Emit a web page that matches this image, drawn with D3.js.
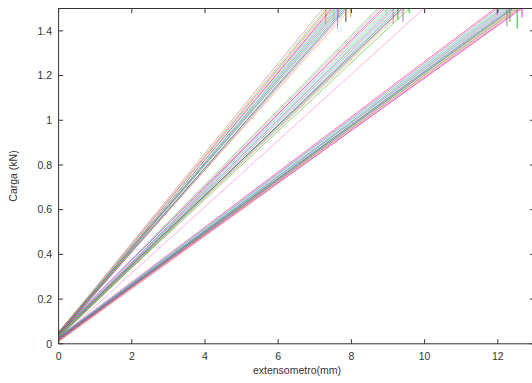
<!DOCTYPE html>
<html>
<head>
<meta charset="utf-8">
<script src="https://cdn.jsdelivr.net/npm/d3@7"></script>
<style>
  body { margin: 0; background: #fff; }
  text { font-family: "Liberation Sans", Arial, sans-serif; fill: #333; }
</style>
</head>
<body>
<script>
// x-axis ticks and y-axis ticks
const xTicks = [0, 2, 4, 6, 8, 10, 12];
const yTicks = [0, 0.2, 0.4, 0.6, 0.8, 1, 1.2, 1.4];

// load at zero extension (kN), extension where the curve leaves the top (mm), failure drop (kN, null = none)
const startA = [0.050, 0.048, 0.045, 0.052, 0.040, 0.044, 0.050, 0.035, 0.042, 0.047, 0.038, 0.050, 0.043, 0.055, 0.036, 0.046, 0.041, 0.049];
const reachA = [7.22, 7.30, 7.35, 7.40, 7.45, 7.48, 7.52, 7.55, 7.58, 7.62, 7.65, 7.68, 7.72, 7.75, 7.80, 7.85, 7.90, 7.98];
const dropA  = [null, 1.43, null, null, null, null, 1.45, null, null, 1.41, 1.46, null, null, null, null, 1.44, null, 1.46];

const startB = [0.045, 0.040, 0.030, 0.050, 0.035, 0.042, 0.028, 0.038, 0.046, 0.032, 0.040, 0.025, 0.036, 0.044, 0.030, 0.038, 0.034, 0.020];
const reachB = [8.72, 8.78, 8.84, 8.90, 8.95, 9.00, 9.05, 9.10, 9.14, 9.18, 9.22, 9.27, 9.32, 9.38, 9.41, 9.48, 9.58, 9.98];
const dropB  = [null, null, null, null, 1.47, null, null, null, 1.43, null, null, 1.45, null, null, 1.44, null, 1.48, null];

const startC = [0.030, 0.025, 0.020, 0.028, 0.015, 0.022, 0.018, 0.026, 0.012, 0.020, 0.024, 0.016, 0.028, 0.014, 0.022, 0.018, 0.010, 0.020];
const reachC = [11.92, 11.98, 12.03, 12.08, 12.12, 12.16, 12.20, 12.25, 12.28, 12.33, 12.37, 12.41, 12.45, 12.50, 12.53, 12.57, 12.62, 12.66];
const dropC  = [null, 1.47, null, null, null, null, null, 1.42, null, 1.44, null, null, null, null, 1.41, null, null, 1.46];

const colors = ['#9467bd', '#2ca02c', '#e377c2', '#17becf', '#d62728', '#ff7f0e', '#1f77b4', '#7f7f7f',
                '#bcbd22', '#ff00ff', '#00c000', '#333333', '#c0a0ff', '#00bfff', '#98df8a', '#ff66cc'];

const W = 532, H = 383;
const svg = d3.select('body').append('svg')
    .attr('width', W)
    .attr('height', H);

const x = d3.scaleLinear().domain([0, 13]).range([58.6, 534.4]);
const y = d3.scaleLinear().domain([0, 1.5]).range([343.8, 8.5]);

// build series point lists
const series = [];
[[startA, reachA, dropA], [startB, reachB, dropB], [startC, reachC, dropC]].forEach(([s, r, d]) => {
    s.forEach((v, i) => {
        const pts = [[0, v], [r[i], 1.5]];
        if (d[i] !== null) pts.push([r[i], d[i]], [r[i], 1.5]);
        series.push(pts);
    });
});

svg.append('clipPath').attr('id', 'clip')
    .append('rect')
    .attr('x', x(0)).attr('y', y(1.5))
    .attr('width', x(13) - x(0)).attr('height', y(0) - y(1.5));

const line = d3.line().x(d => x(d[0])).y(d => y(d[1]));

svg.append('g')
    .attr('clip-path', 'url(#clip)')
    .selectAll('path')
    .data(series)
    .enter().append('path')
    .attr('d', line)
    .attr('fill', 'none')
    .attr('stroke', (d, i) => colors[(i * 5) % colors.length])
    .attr('stroke-opacity', 0.5)
    .attr('stroke-width', 1);

// border
svg.append('rect')
    .attr('x', x(0)).attr('y', y(1.5))
    .attr('width', x(13) - x(0)).attr('height', y(0) - y(1.5))
    .attr('fill', 'none')
    .attr('stroke', '#333')
    .attr('stroke-width', 1);

// ticks, inward on all four sides
const tl = 4.5;
const axisG = svg.append('g').attr('stroke', '#333').attr('stroke-width', 1);
xTicks.forEach(t => {
    axisG.append('line').attr('x1', x(t)).attr('x2', x(t)).attr('y1', y(0)).attr('y2', y(0) - tl);
    axisG.append('line').attr('x1', x(t)).attr('x2', x(t)).attr('y1', y(1.5)).attr('y2', y(1.5) + tl);
});
yTicks.forEach(t => {
    axisG.append('line').attr('x1', x(0)).attr('x2', x(0) + tl).attr('y1', y(t)).attr('y2', y(t));
    axisG.append('line').attr('x1', x(13)).attr('x2', x(13) - tl).attr('y1', y(t)).attr('y2', y(t));
});

svg.append('g').selectAll('text')
    .data(xTicks)
    .enter().append('text')
    .attr('x', d => x(d))
    .attr('y', 360)
    .attr('text-anchor', 'middle')
    .attr('font-size', 10.5)
    .text(d => d);

svg.append('g').selectAll('text')
    .data(yTicks)
    .enter().append('text')
    .attr('x', 52)
    .attr('y', d => y(d) + 3.7)
    .attr('text-anchor', 'end')
    .attr('font-size', 10.5)
    .text(d => d);

svg.append('text')
    .attr('x', 297)
    .attr('y', 374)
    .attr('text-anchor', 'middle')
    .attr('font-size', 10.5)
    .text('extensometro(mm)');

svg.append('text')
    .attr('transform', 'translate(17,176) rotate(-90)')
    .attr('text-anchor', 'middle')
    .attr('font-size', 10.5)
    .text('Carga (kN)');
</script>
</body>
</html>
